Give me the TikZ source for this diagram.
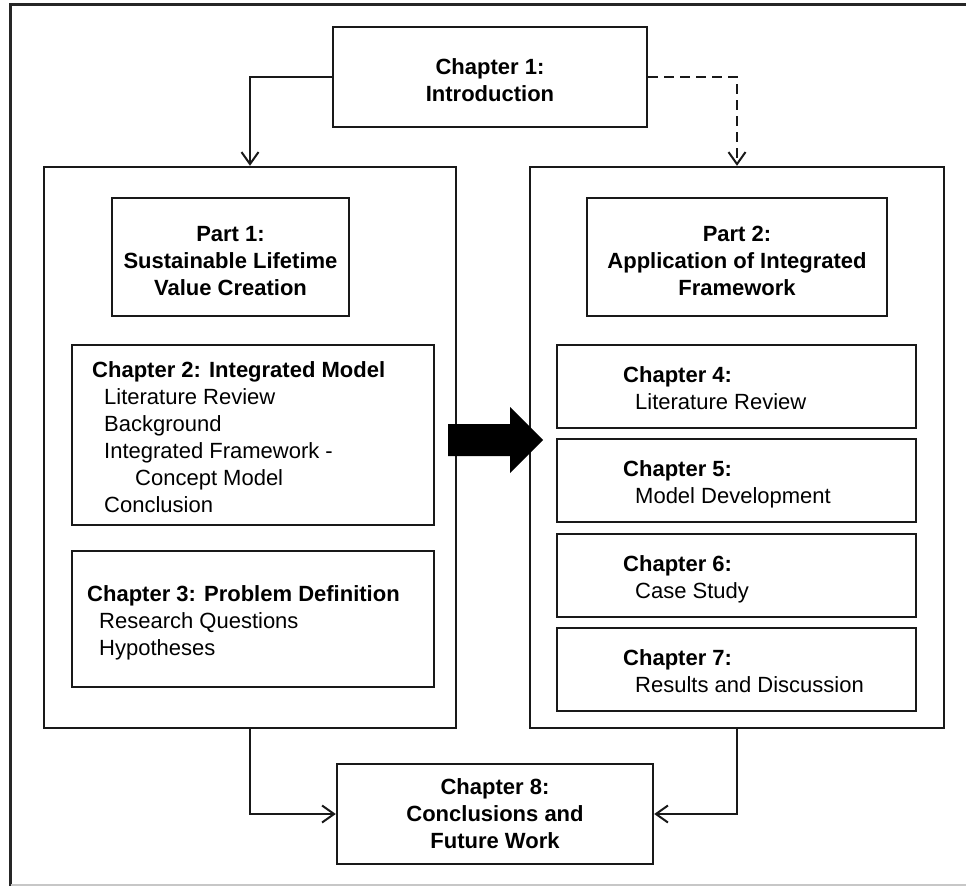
\documentclass[tikz,border=0pt]{standalone}
\usepackage{fontspec}
\setmainfont{Liberation Sans}
\usetikzlibrary{arrows.meta,calc}
\newcommand\diagfont{\fontsize{22}{27}\selectfont}
\begin{document}
\begin{tikzpicture}[x=1pt,y=-1pt,
  box/.style={draw=black!90, line width=2.4pt, inner sep=0pt},
  title/.style={inner sep=0pt, align=center, font=\diagfont\bfseries},
  listtext/.style={inner sep=0pt, anchor=north west, align=left, font=\diagfont},
  link/.style={line width=2pt, draw=black!90, -{Straight Barb[length=12pt,width=17pt,line width=2pt]}},
]
\useasboundingbox (0,0) rectangle (966,886);
% page frame
\draw[line width=3pt, black!85] (10.5,886) -- (10.5,4) -- (966,4);
\draw[line width=1.5pt, black!22] (10.5,885) -- (966,885);

% introduction
\node[box, minimum width=314pt, minimum height=100pt] (ch1) at (490,77) {};
\node[title, yshift=-3pt] (ch1text) at (ch1) {Chapter 1:\\Introduction};

% the two parts
\node[box, minimum width=412pt, minimum height=561pt] (part1) at (250,447.5) {};
\node[box, minimum width=414pt, minimum height=561pt] (part2) at (737,447.5) {};
\node[box, minimum width=237pt, minimum height=118pt] (p1title) at (230.5,257) {};
\node[title, yshift=-4pt] (p1text) at (p1title) {Part 1:\\Sustainable Lifetime\\Value Creation};
\node[box, minimum width=300pt, minimum height=118pt] (p2title) at (737,257) {};
\node[title, yshift=-4pt] (p2text) at (p2title) {Part 2:\\Application of Integrated\\Framework};

% part 1 chapters
\node[box, minimum width=362pt, minimum height=180pt] (ch2) at (253,435) {};
\node[listtext] (ch2text) at (92,361) {\textbf{Chapter 2: Integrated Model}\\
  \hspace*{12pt}Literature Review\\
  \hspace*{12pt}Background\\
  \hspace*{12pt}Integrated Framework -\\
  \hspace*{43pt}Concept Model\\
  \hspace*{12pt}Conclusion};
\node[box, minimum width=362pt, minimum height=136pt] (ch3) at (253,619) {};
\node[listtext] (ch3text) at (87,585) {\textbf{Chapter 3: Problem Definition}\\
  \hspace*{12pt}Research Questions\\
  \hspace*{12pt}Hypotheses};

% part 2 chapters
\node[box, minimum width=359pt, minimum height=83pt] (ch4) at (736.5,386.5) {};
\node[listtext] (ch4text) at (623,366) {\textbf{Chapter 4:}\\\hspace*{12pt}Literature Review};
\node[box, minimum width=359pt, minimum height=83pt] (ch5) at (736.5,480.5) {};
\node[listtext] (ch5text) at (623,460) {\textbf{Chapter 5:}\\\hspace*{12pt}Model Development};
\node[box, minimum width=359pt, minimum height=83pt] (ch6) at (736.5,575.5) {};
\node[listtext] (ch6text) at (623,555) {\textbf{Chapter 6:}\\\hspace*{12pt}Case Study};
\node[box, minimum width=359pt, minimum height=83pt] (ch7) at (736.5,669.5) {};
\node[listtext] (ch7text) at (623,649) {\textbf{Chapter 7:}\\\hspace*{12pt}Results and Discussion};

% conclusions
\node[box, minimum width=316pt, minimum height=100pt] (ch8) at (495,814) {};
\node[title] (ch8text) at (ch8) {Chapter 8:\\Conclusions and\\Future Work};

% connectors
\draw[link] (ch1.west) -| (part1.north);
\draw[link, dash pattern=on 10pt off 6pt] (ch1.east) -| (part2.north);
\draw[link] (part1.south) |- (ch8.west);
\draw[link] (part2.south) |- (ch8.east);

% block arrow from part 1 to part 2
\fill[black] (448,424) -- (510,424) -- (510,407) -- (543,440) -- (510,473) -- (510,456) -- (448,456) -- cycle;
\end{tikzpicture}
\end{document}
